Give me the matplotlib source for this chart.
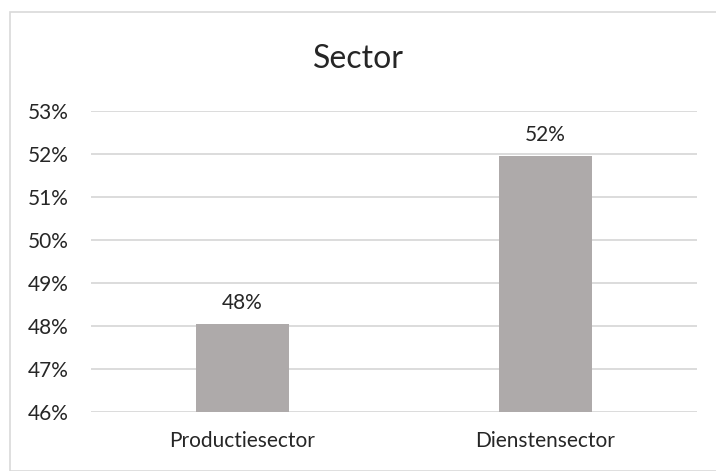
import matplotlib.pyplot as plt
from matplotlib.patches import Rectangle

categories = ['Productiesector', 'Dienstensector']
values = [48.04, 51.96]
labels = ['48%', '52%']
yticks = [46, 47, 48, 49, 50, 51, 52, 53]

plt.rcParams['font.family'] = ['Lato', 'DejaVu Sans']

fig = plt.figure(figsize=(7.16, 4.71), dpi=100)
ax = fig.add_axes([91 / 716, 1 - 412 / 471, (697 - 91) / 716, (412 - 111) / 471])

# outer chart border
fig.patches.append(Rectangle((10 / 716, 0), 1.2, 1 - 12 / 471, transform=fig.transFigure,
                             fill=False, edgecolor='#d9d9d9', linewidth=1.2))

x = range(len(categories))
bars = ax.bar(x, values, width=0.31, color='#aeaaaa', zorder=3)
for b, lab in zip(bars, labels):
    ax.annotate(lab, (b.get_x() + b.get_width() / 2, b.get_height()),
                xytext=(0, 8), textcoords='offset points',
                ha='center', va='bottom', fontsize=15, color='#262626')

ax.set_ylim(46, 53)
ax.set_xlim(-0.5, 1.5)
ax.set_yticks(yticks)
ax.set_yticklabels([f'{t}%' for t in yticks])
ax.set_xticks(list(x))
ax.set_xticklabels(categories)
ax.grid(axis='y', color='#d9d9d9', linewidth=1.3, zorder=0)
for s in ax.spines.values():
    s.set_visible(False)
ax.tick_params(axis='both', length=0, labelsize=15, colors='#262626')
ax.tick_params(axis='y', pad=16)
ax.tick_params(axis='x', pad=14)

fig.text(0.5, 1 - 59 / 471, 'Sector', ha='center', va='center', fontsize=23, color='#262626')

fig.savefig('out.png', dpi=100)
